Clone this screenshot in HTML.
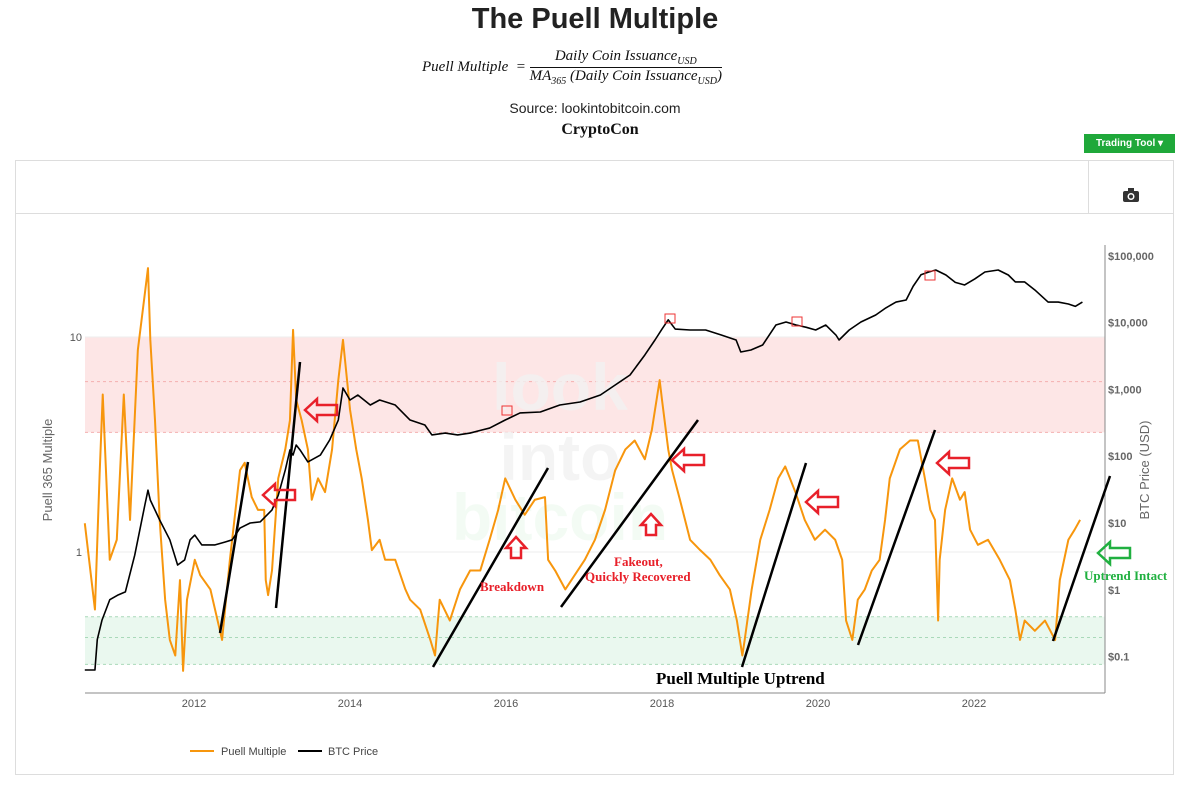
<!DOCTYPE html>
<html><head><meta charset="utf-8">
<style>
body{margin:0;background:#fff;width:1200px;height:787px;overflow:hidden;font-family:"Liberation Sans",sans-serif;position:relative}
.abs{position:absolute}
</style></head><body>
<div class="abs" style="left:0;width:1190px;top:3px;text-align:center;font-size:29px;font-weight:bold;color:#222">The Puell Multiple</div>
<div class="abs" style="left:422px;top:48px;font-family:'Liberation Serif',serif;font-style:italic;font-size:15px;color:#111;display:flex;align-items:center">
 <span>Puell Multiple&nbsp; =&nbsp;</span>
 <span style="display:inline-block;text-align:center"><span style="display:block;border-bottom:1px solid #111;padding:0 4px">Daily Coin Issuance<sub style="font-size:10px">USD</sub></span><span style="display:block">MA<sub style="font-size:10px">365</sub> (Daily Coin Issuance<sub style="font-size:10px">USD</sub>)</span></span>
</div>
<div class="abs" style="left:0;width:1190px;top:100px;text-align:center;font-size:14px;color:#222">Source: lookintobitcoin.com</div>
<div class="abs" style="left:0;width:1200px;top:121px;text-align:center;font-size:16px;font-weight:bold;font-family:'Liberation Serif',serif;color:#111">CryptoCon</div>
<div class="abs" style="left:1084px;top:134px;width:91px;height:19px;background:#1fa83a;color:#fff;font-size:10px;font-weight:bold;line-height:19px;text-align:center">Trading Tool ▾</div>
<div class="abs" style="left:15px;top:160px;width:1157px;height:613px;border:1px solid #ddd"></div>
<div class="abs" style="left:16px;top:213px;width:1157px;height:1px;background:#ddd"></div>
<div class="abs" style="left:1088px;top:161px;width:1px;height:52px;background:#ddd"></div>
<svg class="abs" style="left:1122px;top:187px" width="18" height="16"><rect x="1" y="4" width="16" height="11" rx="2" fill="#333"/><rect x="6" y="1" width="6" height="4" fill="#333"/><circle cx="9" cy="9.5" r="3.5" fill="#fff"/><circle cx="9" cy="9.5" r="2" fill="#333"/></svg>
<svg id="chart" class="abs" style="left:0;top:0" width="1200" height="787"></svg>
<script>
const puellYears=[2010.60,2010.73,2010.79,2010.83,2010.92,2011.01,2011.10,2011.18,2011.28,2011.36,2011.41,2011.44,2011.50,2011.56,2011.63,2011.69,2011.76,2011.82,2011.86,2011.91,2012.01,2012.08,2012.21,2012.36,2012.46,2012.59,2012.65,2012.74,2012.82,2012.90,2012.92,2012.95,2013.00,2013.08,2013.17,2013.23,2013.27,2013.31,2013.38,2013.46,2013.51,2013.59,2013.68,2013.77,2013.85,2013.91,2014.00,2014.08,2014.15,2014.23,2014.28,2014.38,2014.45,2014.58,2014.71,2014.77,2014.90,2015.03,2015.09,2015.15,2015.28,2015.41,2015.54,2015.67,2015.79,2015.90,2015.99,2016.12,2016.24,2016.37,2016.50,2016.54,2016.63,2016.76,2016.88,2017.01,2017.14,2017.27,2017.40,2017.53,2017.65,2017.78,2017.87,2017.97,2018.00,2018.08,2018.13,2018.23,2018.36,2018.49,2018.62,2018.74,2018.87,2018.96,2019.03,2019.06,2019.15,2019.26,2019.38,2019.49,2019.58,2019.71,2019.83,2019.96,2020.09,2020.22,2020.31,2020.36,2020.44,2020.51,2020.60,2020.69,2020.79,2020.86,2020.92,2021.05,2021.18,2021.28,2021.37,2021.44,2021.50,2021.54,2021.56,2021.63,2021.72,2021.82,2021.88,2021.95,2022.05,2022.18,2022.33,2022.46,2022.53,2022.59,2022.65,2022.78,2022.91,2023.04,2023.10,2023.21,2023.29,2023.36];
const puellValues=[1.36,0.54,2.3,5.4,0.92,1.14,5.4,1.41,8.7,14.9,20.9,9.7,4.1,1.41,0.60,0.39,0.33,0.74,0.28,0.60,0.92,0.78,0.67,0.39,0.92,2.4,2.6,1.8,1.57,1.57,0.74,0.63,0.82,2.2,3.0,4.1,10.8,5.1,4.1,3.0,1.75,2.2,1.9,3.0,6.3,9.7,4.6,3.0,2.2,1.41,1.02,1.14,0.92,0.92,0.67,0.60,0.54,0.39,0.33,0.60,0.48,0.67,0.82,0.82,1.14,1.57,2.2,1.75,1.49,1.75,1.8,0.92,0.82,0.67,0.78,0.92,1.14,1.57,2.4,3.0,3.3,2.7,3.7,6.3,5.1,3.0,2.4,1.75,1.14,1.02,0.92,0.78,0.67,0.48,0.33,0.39,0.67,1.14,1.57,2.2,2.5,1.9,1.41,1.14,1.27,1.14,0.92,0.48,0.39,0.60,0.67,0.82,0.92,1.41,2.2,3.0,3.3,3.3,2.2,1.57,1.41,0.48,0.92,1.57,2.2,1.75,1.9,1.27,1.08,1.14,0.92,0.74,0.54,0.39,0.48,0.43,0.48,0.39,0.74,1.14,1.27,1.41];
const priceYears=[2010.60,2010.73,2010.76,2010.82,2010.92,2011.03,2011.12,2011.24,2011.37,2011.41,2011.44,2011.56,2011.69,2011.79,2011.88,2011.95,2012.01,2012.10,2012.27,2012.40,2012.49,2012.59,2012.72,2012.85,2013.00,2013.08,2013.17,2013.23,2013.27,2013.31,2013.36,2013.46,2013.62,2013.74,2013.85,2013.91,2014.00,2014.10,2014.26,2014.38,2014.58,2014.77,2014.96,2015.05,2015.22,2015.38,2015.54,2015.69,2015.79,2015.99,2016.18,2016.44,2016.69,2016.95,2017.21,2017.40,2017.59,2017.78,2017.91,2018.00,2018.08,2018.17,2018.36,2018.56,2018.76,2018.95,2019.01,2019.14,2019.29,2019.46,2019.59,2019.72,2019.85,2019.97,2020.10,2020.23,2020.27,2020.40,2020.55,2020.74,2020.87,2021.00,2021.13,2021.22,2021.32,2021.42,2021.51,2021.64,2021.76,2021.88,2022.01,2022.14,2022.31,2022.44,2022.53,2022.65,2022.78,2022.95,2023.08,2023.21,2023.30,2023.39];
const priceValues=[0.063,0.063,0.18,0.35,0.71,0.84,0.93,3.3,18.6,31,22,11.1,5.6,2.35,2.8,5.6,6.6,4.7,4.7,5.2,5.6,8.4,10,10.4,15.7,26,62,124,104,147,124,82,104,175,348,1050,694,824,584,694,584,348,293,208,222,208,222,247,264,348,444,459,584,648,824,1164,1644,3275,5490,8000,11000,8000,7750,7750,6520,5490,3630,3890,4620,9200,10200,9200,8500,7750,9200,6520,5490,7750,10200,13000,16600,20300,21800,35000,52000,57200,61300,51600,40000,36600,45000,57200,61300,51600,40600,40600,30800,20300,20300,19000,17500,20300,23300,25900,28700];
const yearTicks=[2012,2014,2016,2018,2020,2022];
const puellTicks=[1,10];
const priceTicks=[0.1,1,10,100,1000,10000,100000];
const priceTickLabels=["$0.1","$1","$10","$100","$1,000","$10,000","$100,000"];
const bandLevels=[0.3,0.4,0.5,3.6,6.2,10];

const NS="http://www.w3.org/2000/svg";
const svg=document.getElementById('chart');
const X0=85,X1=1105;
const xs=t=>194+(t-2012)*78;
const yP=v=>552-215*Math.log10(v);
const yB=p=>523-66.8*Math.log10(p/10);
function mk(tag,attrs,parent){const e=document.createElementNS(NS,tag);for(const k in attrs)e.setAttribute(k,attrs[k]);(parent||svg).appendChild(e);return e;}

let r=mk('rect',{x:X0,y:yP(bandLevels[5]),width:X1-X0,height:yP(bandLevels[3])-yP(bandLevels[5]),fill:'#fde6e6'});


r=mk('rect',{x:X0,y:yP(bandLevels[2]),width:X1-X0,height:yP(bandLevels[0])-yP(bandLevels[2]),fill:'#eaf8ef'});


bandLevels.forEach((b,i)=>{const l=mk('line',{x1:X0,x2:X1,y1:yP(b),y2:yP(b),stroke:i<3?'#a9d9b9':'#f4b0b0','stroke-dasharray':'3,3'});

});
puellTicks.forEach(v=>{const l=mk('line',{x1:X0,x2:X1,y1:yP(v),y2:yP(v),stroke:'#eee'});


const t=mk('text',{x:X0-3,y:yP(v)+4,'text-anchor':'end','font-size':11,fill:'#555'});t.textContent=v;

});

[['look',410],['into',480],['bitcoin',540]].forEach((w,i)=>{const t=mk('text',{x:560,y:w[1],'text-anchor':'middle','font-size':66,'font-weight':'bold',fill:i==2?'#f0faf1':'#f1f1f1','fill-opacity':0.8});t.textContent=w[0];

});

let a=mk('line',{x1:X0,x2:X1,y1:693,y2:693,stroke:'#888'});


a=mk('line',{x1:X1,x2:X1,y1:245,y2:693,stroke:'#888'});


yearTicks.forEach(y=>{const t=mk('text',{x:xs(y),y:707,'text-anchor':'middle','font-size':11,fill:'#555'});t.textContent=y;

});
priceTicks.forEach((p,i)=>{const t=mk('text',{x:1108,y:yB(p)+4,'font-size':11,'font-weight':'bold',fill:'#666'});t.textContent=priceTickLabels[i];

});
let t=mk('text',{x:52,y:470,transform:'rotate(-90 52 470)','text-anchor':'middle','font-size':13,fill:'#666'});t.textContent='Puell 365 Multiple';


t=mk('text',{x:1149,y:470,transform:'rotate(-90 1149 470)','text-anchor':'middle','font-size':13,fill:'#666'});t.textContent='BTC Price (USD)';



let p=mk('polyline',{points:puellYears.map((y,i)=>xs(y)+','+yP(puellValues[i])).join(' '),fill:'none',stroke:'#f7960d','stroke-width':2,'stroke-linejoin':'round'});


p=mk('polyline',{points:priceYears.map((y,i)=>xs(y)+','+yB(priceValues[i])).join(' '),fill:'none',stroke:'#000','stroke-width':1.6,'stroke-linejoin':'round'});


[[670,319],[507,411],[797,322],[930,276]].forEach(c=>{const s=mk('rect',{x:c[0]-5,y:c[1]-5,width:10,height:9,fill:'none',stroke:'#e33','stroke-width':1});

});

[[220,633,248,462],[276,608,300,362],[433,667,548,468],[561,607,698,420],[742,667,806,463],[858,645,935,430],[1053,641,1110,476]].forEach(l=>{const e=mk('line',{x1:l[0],y1:l[1],x2:l[2],y2:l[3],stroke:'#000','stroke-width':2.5});

});
function leftArrow(x,y,col,name){const g=mk('path',{d:`M${x},${y} l12,-11 v6 h20 v10 h-20 v6 z`,fill:'none',stroke:col,'stroke-width':2.5});

}
function upArrow(x,y,name){const g=mk('path',{d:`M${x},${y} l10,11 h-5 v10 h-10 v-10 h-5 z`,fill:'none',stroke:'#e8202a','stroke-width':2.5});

}
leftArrow(305,410,'#e8202a','red-arrow');leftArrow(263,495,'#e8202a','red-arrow');leftArrow(672,460,'#e8202a','red-arrow');leftArrow(806,502,'#e8202a','red-arrow');leftArrow(937,463,'#e8202a','red-arrow');
leftArrow(1098,553,'#20b040','green-arrow');
upArrow(516,537,'red-up-arrow');upArrow(651,514,'red-up-arrow');
function label(x,y,s,col,size,name){const e=mk('text',{x:x,y:y,'font-family':'Liberation Serif,serif','font-weight':'bold','font-size':size,fill:col});e.textContent=s;

}
label(480,591,'Breakdown','#e8202a',13,'breakdown-label');
label(614,566,'Fakeout,','#e8202a',13,'fakeout-label');
label(585,581,'Quickly Recovered','#e8202a',13,'quickly-recovered-label');
label(1084,580,'Uptrend Intact','#20b040',13,'uptrend-intact-label');
label(656,684,'Puell Multiple Uptrend','#000',17,'uptrend-title');

let lg=mk('line',{x1:190,x2:214,y1:751,y2:751,stroke:'#f7960d','stroke-width':2});


t=mk('text',{x:221,y:755,'font-size':11,fill:'#444'});t.textContent='Puell Multiple';


lg=mk('line',{x1:298,x2:322,y1:751,y2:751,stroke:'#000','stroke-width':2});


t=mk('text',{x:328,y:755,'font-size':11,fill:'#444'});t.textContent='BTC Price';


</script>
</body></html>
